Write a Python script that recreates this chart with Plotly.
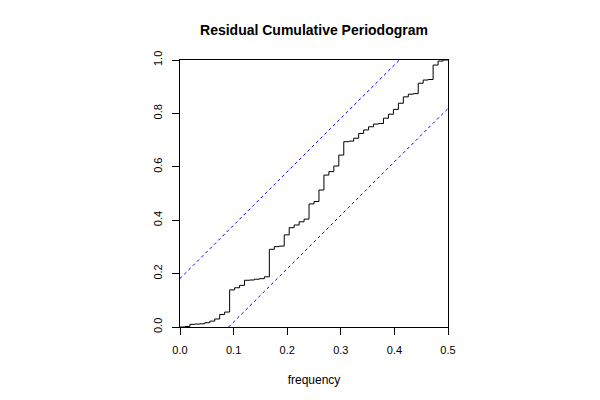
import plotly.graph_objects as go

# ---- data ----
n_half = 54  # number of frequency steps between 0 and 0.5
freq = [k / (2 * n_half) for k in range(n_half + 1)]
cum_pgram = [
    0.000, 0.002, 0.010, 0.011, 0.012, 0.016, 0.022, 0.030, 0.047, 0.056,
    0.139, 0.147, 0.156, 0.175, 0.176, 0.179, 0.181, 0.188, 0.291, 0.301,
    0.303, 0.345, 0.372, 0.382, 0.394, 0.404, 0.461, 0.470, 0.513, 0.569,
    0.582, 0.603, 0.644, 0.694, 0.696, 0.707, 0.725, 0.738, 0.750, 0.760,
    0.762, 0.782, 0.797, 0.815, 0.838, 0.862, 0.872, 0.874, 0.913, 0.925,
    0.927, 0.981, 0.996, 1.000, 1.000,
]
crit = 0.1815
x_max = 0.5
x_ticks = [0.0, 0.1, 0.2, 0.3, 0.4, 0.5]
x_ticklabels = ["0.0", "0.1", "0.2", "0.3", "0.4", "0.5"]
y_ticks = [0.0, 0.2, 0.4, 0.6, 0.8, 1.0]
y_ticklabels = ["0.0", "0.2", "0.4", "0.6", "0.8", "1.0"]

upper_x = [0, x_max * (1 - crit)]
upper_y = [crit, 1]
lower_x = [x_max * crit, x_max]
lower_y = [0, 1 - crit]

FONT = "Liberation Sans, Arial, Helvetica, sans-serif"
OFF = 8  # page body margin of the browser

fig = go.Figure()
fig.add_trace(go.Scatter(x=freq, y=cum_pgram, mode="lines",
                         line=dict(color="black", width=1, shape="hv"),
                         showlegend=False, hoverinfo="skip"))
fig.add_trace(go.Scatter(x=upper_x, y=upper_y, mode="lines",
                         line=dict(color="blue", width=1, dash="3px,3px"),
                         showlegend=False, hoverinfo="skip"))
fig.add_trace(go.Scatter(x=lower_x, y=lower_y, mode="lines",
                         line=dict(color="blue", width=1, dash="3px,3px"),
                         showlegend=False, hoverinfo="skip"))

fig.update_layout(
    width=600, height=400,
    margin=dict(l=180 - OFF, r=152 + OFF, t=60 - OFF, b=73 + OFF, autoexpand=False),
    paper_bgcolor="white", plot_bgcolor="white",
    font=dict(family=FONT, color="black"),
    title=dict(text="<b>Residual Cumulative Periodogram</b>",
               x=(314 - OFF) / 600, xanchor="center",
               y=1 - (30 - OFF) / 400, yanchor="middle",
               font=dict(size=14, family=FONT, color="black")),
)
fig.update_xaxes(
    range=[0, x_max], tickmode="array", tickvals=x_ticks, ticktext=x_ticklabels,
    showgrid=False, zeroline=False, showline=True, linecolor="black", linewidth=1,
    mirror=True, ticks="outside", ticklen=7, tickcolor="black", tickwidth=1,
    tickfont=dict(size=11, family=FONT, color="black"), ticklabelstandoff=6,
    title=dict(text="frequency", font=dict(size=12, family=FONT, color="black"),
               standoff=20),
)
fig.update_yaxes(
    range=[0, 1], tickmode="array", tickvals=y_ticks, ticktext=y_ticklabels,
    showgrid=False, zeroline=False, showline=True, linecolor="black", linewidth=1,
    mirror=True, ticks="outside", ticklen=7, tickcolor="black", tickwidth=1,
    tickangle=-90, tickfont=dict(size=11, family=FONT, color="black"),
    ticklabelstandoff=6,
)

fig.write_html("out.html")
